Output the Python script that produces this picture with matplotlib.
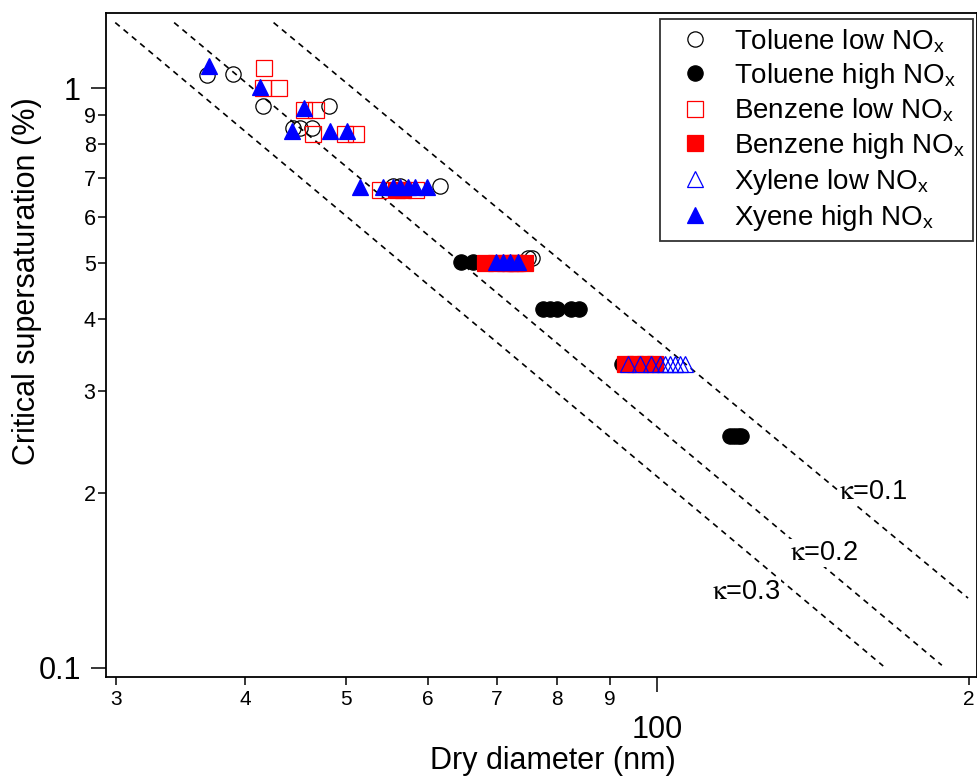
import matplotlib.pyplot as plt
from matplotlib.ticker import FixedLocator, FixedFormatter

plt.rcParams['font.family'] = ['Liberation Sans', 'DejaVu Sans']
plt.rcParams['mathtext.fontset'] = 'stix'

# data (diameter in nm, supersaturation in %)
tol_low_x = [36.7, 38.9, 41.6, 48.2, 44.5, 45.2, 46.4, 55.5, 56.4, 61.7, 75.0, 75.7]
tol_low_y = [1.054, 1.058, 0.932, 0.932, 0.854, 0.854, 0.854, 0.678, 0.678, 0.678, 0.51, 0.51]

tol_high_x = [64.6, 66.4, 77.6, 78.8, 80.0, 82.6, 84.0, 92.4, 117.6, 118.6, 119.5, 120.5]
tol_high_y = [0.501, 0.501, 0.416, 0.416, 0.416, 0.416, 0.416, 0.334, 0.251, 0.251, 0.251, 0.251]

benz_low_x = [41.7, 41.6, 43.1, 45.6, 46.8, 46.5, 49.9, 51.2, 54.0, 58.5, 72.0, 73.2]
benz_low_y = [1.084, 1.0, 1.0, 0.917, 0.917, 0.834, 0.834, 0.834, 0.667, 0.667, 0.5, 0.5]

benz_high_x = [56.0, 56.8, 68.2, 69.8, 71.3, 72.9, 74.5, 93.1, 95.2, 97.3, 99.5]
benz_high_y = [0.667, 0.667, 0.5, 0.5, 0.5, 0.5, 0.5, 0.334, 0.334, 0.334, 0.334]

xyl_low_x = [93.7, 96.2, 98.5, 100.6, 101.8, 102.9, 104.1, 105.2, 106.4]
xyl_low_y = [0.334, 0.334, 0.334, 0.334, 0.334, 0.334, 0.334, 0.334, 0.334]

xyl_high_x = [36.9, 41.3, 45.6, 44.4, 48.3, 50.1, 51.6, 54.3, 55.6, 56.4, 57.4, 58.3, 59.9,
              69.9, 71.0, 72.1, 73.3]
xyl_high_y = [1.093, 1.006, 0.924, 0.843, 0.843, 0.843, 0.675, 0.675, 0.675, 0.675, 0.675,
              0.675, 0.675, 0.502, 0.502, 0.502, 0.502]

# kappa lines: end points
kappa_names = ['0.1', '0.2', '0.3']
kappa_x = [[42.6, 199.5], [34.15, 188.2], [29.96, 165.2]]
kappa_y = [[1.298, 0.1319], [1.298, 0.101], [1.298, 0.1007]]
kappa_label_x = [161.6, 144.9, 121.8]
kappa_label_y = [0.201, 0.1578, 0.1351]

x_major = [100]
x_minor = [30, 40, 50, 60, 70, 80, 90, 200]
x_minor_labels = ['3', '4', '5', '6', '7', '8', '9', '2']
y_major = [0.1, 1]
y_major_labels = ['0.1', '1']
y_minor = [0.2, 0.3, 0.4, 0.5, 0.6, 0.7, 0.8, 0.9]
y_minor_labels = ['2', '3', '4', '5', '6', '7', '8', '9']

fig = plt.figure(figsize=(9.77, 7.78), dpi=100)
ax = fig.add_axes([106 / 977, 101 / 778, 871 / 977, 664.3 / 778])

for xs, ys, name in zip(kappa_x, kappa_y, kappa_names):
    ax.plot(xs, ys, color='black', lw=1.2, ls=(0, (3.5, 3)), zorder=1)
for lx, ly, name in zip(kappa_label_x, kappa_label_y, kappa_names):
    ax.text(lx, ly, r'$\mathrm{\kappa}$=' + name, fontsize=19.5, ha='center', va='center',
            zorder=2, bbox=dict(facecolor='white', edgecolor='none', pad=1))

ms = 11
ax.plot(tol_low_x, tol_low_y, 'o', ms=ms, mfc='none', mec='black', mew=0.9,
        label=r'Toluene low NO$_\mathregular{x}$')
ax.plot(tol_high_x, tol_high_y, 'o', ms=ms, mfc='black', mec='black', mew=0.9,
        label=r'Toluene high NO$_\mathregular{x}$')
ax.plot(benz_low_x, benz_low_y, 's', ms=ms, mfc='none', mec='red', mew=0.9,
        label=r'Benzene low NO$_\mathregular{x}$')
ax.plot(benz_high_x, benz_high_y, 's', ms=ms, mfc='red', mec='red', mew=0.9,
        label=r'Benzene high NO$_\mathregular{x}$')
ax.plot(xyl_low_x, xyl_low_y, '^', ms=ms, mfc='none', mec='blue', mew=0.9,
        label=r'Xylene low NO$_\mathregular{x}$')
ax.plot(xyl_high_x, xyl_high_y, '^', ms=ms, mfc='blue', mec='blue', mew=0.9,
        label=r'Xyene high NO$_\mathregular{x}$')

ax.set_xscale('log')
ax.set_yscale('log')
ax.set_xlim(29.35, 203.5)
ax.set_ylim(0.0964, 1.35)

ax.xaxis.set_major_locator(FixedLocator(x_major))
ax.xaxis.set_major_formatter(FixedFormatter([str(v) for v in x_major]))
ax.xaxis.set_minor_locator(FixedLocator(x_minor))
ax.xaxis.set_minor_formatter(FixedFormatter(x_minor_labels))
ax.yaxis.set_major_locator(FixedLocator(y_major))
ax.yaxis.set_major_formatter(FixedFormatter(y_major_labels))
ax.yaxis.set_minor_locator(FixedLocator(y_minor))
ax.yaxis.set_minor_formatter(FixedFormatter(y_minor_labels))

ax.tick_params(which='both', direction='out', width=1.1, color='black')
ax.tick_params(which='major', length=11)
ax.tick_params(which='minor', length=5.5)
ax.tick_params(axis='x', which='major', labelsize=22, pad=16)
ax.tick_params(axis='x', which='minor', labelsize=15, pad=4)
ax.tick_params(axis='y', which='major', labelsize=22, pad=7)
ax.tick_params(axis='y', which='minor', labelsize=15.5, pad=2)

for sp in ax.spines.values():
    sp.set_linewidth(1.3)

ax.set_xlabel('Dry diameter (nm)', fontsize=22)
ax.set_ylabel('Critical supersaturation (%)', fontsize=22)
ax.xaxis.set_label_coords(0.513, -0.104)
ax.yaxis.set_label_coords(-0.074, 0.596)

leg = ax.legend(loc='upper right', bbox_to_anchor=(0.9954, 0.9905), borderaxespad=0,
                fontsize=20, frameon=True, fancybox=False, labelspacing=0.22,
                handlelength=1.9, handletextpad=0.45, borderpad=0.3, numpoints=1)
leg.get_frame().set_edgecolor('black')
leg.get_frame().set_linewidth(1.3)

fig.savefig('out.png', dpi=100)
